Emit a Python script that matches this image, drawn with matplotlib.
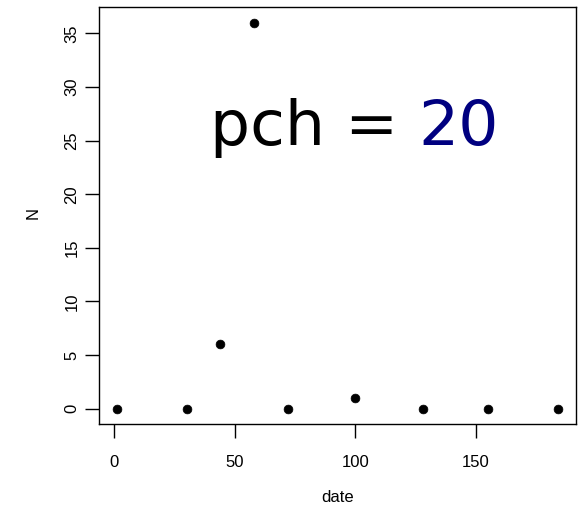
import matplotlib
matplotlib.use("Agg")
import matplotlib.pyplot as plt
import numpy as np

date = [1, 30, 44, 58, 72, 100, 128, 155, 184]
N = [0, 0, 6, 36, 0, 1, 0, 0, 0]
xticks = [0, 50, 100, 150]
yticks = [0, 5, 10, 15, 20, 25, 30, 35]

plt.rcParams['font.family'] = ['Liberation Sans', 'DejaVu Sans']

W, H = 581, 507
fig = plt.figure(figsize=(W / 100, H / 100), dpi=100)
left, right, top, bottom = 99, 575.5, 7.3, 424
aw, ah = right - left, bottom - top
ax = fig.add_axes([left / W, (H - bottom) / H, aw / W, ah / H])

ax.scatter(date, N, s=40, color='black', edgecolors='black', linewidths=0.5, zorder=3)

xmin, xmax = min(date), max(date)
ymin, ymax = min(N), max(N)
dx = 0.04 * (xmax - xmin)
dy = 0.04 * (ymax - ymin)
ax.set_xlim(xmin - dx, xmax + dx)
ax.set_ylim(ymin - dy, ymax + dy)

ax.set_xticks(xticks)
ax.set_yticks(yticks)
ax.set_xticklabels([str(v) for v in xticks], fontsize=12)
ax.set_yticklabels([str(v) for v in yticks], fontsize=12, rotation=90, va='center')
ax.tick_params(direction='out', length=10, width=1, color='black')
ax.tick_params(axis='x', pad=12.5)
ax.tick_params(axis='y', pad=4)
for s in ax.spines.values():
    s.set_linewidth(1)
    s.set_color('black')

ax.set_xlabel('date', fontsize=12, va='center')
ax.xaxis.set_label_coords(0.5 * 0 + (338 - left) / aw, (bottom - 497) / ah)
ax.set_ylabel('N', fontsize=12, va='center')
ax.yaxis.set_label_coords((33 - left) / aw, (bottom - 213) / ah)

# Annotation text
fs = 45.5
t1 = fig.text(210 / W, 1 - 145 / H, 'pch =', fontsize=fs, family='DejaVu Sans',
              color='black', ha='left', va='baseline')
fig.canvas.draw()
bb = t1.get_window_extent()
space = 0.318 * fs * 100 / 72
fig.text((bb.x1 + space) / W, 1 - 145 / H, '20', fontsize=fs, family='DejaVu Sans',
         color='#000080', ha='left', va='baseline')

fig.savefig('out.png', dpi=100)
